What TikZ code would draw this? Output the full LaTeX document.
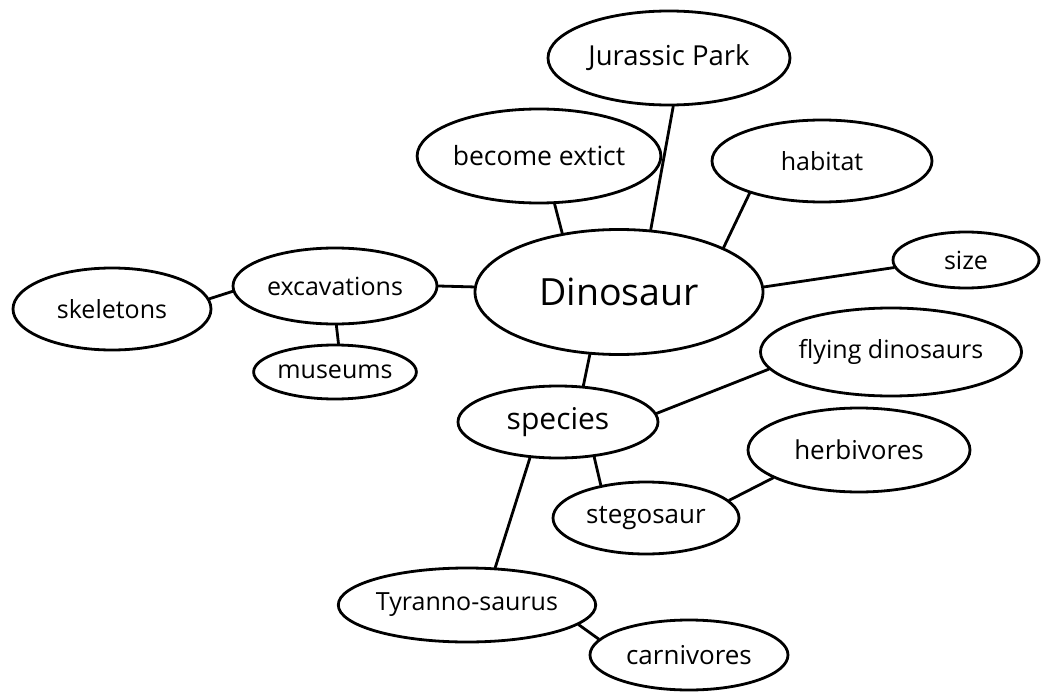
\documentclass[tikz,border=0pt]{standalone}
\usepackage{fontspec}
\setmainfont{Open Sans}
\usetikzlibrary{shapes.geometric}
\begin{document}
\begin{tikzpicture}[x=1pt,y=-1pt,
  bub/.style={ellipse, draw, line width=2.8pt, inner sep=0pt, font=\fontsize{25}{30}\selectfont},
  link/.style={line width=2.8pt, line cap=round}]
\useasboundingbox (0,0) rectangle (1045,693);
\fill[white] (0,0) rectangle (1045,693);
% nodes
\node[bub, minimum width=288pt, minimum height=125pt, font=\fontsize{37.5}{44}\selectfont] (dino) at (619,292) {Dinosaur};
\node[bub, minimum width=242pt, minimum height=94pt, font=\fontsize{27.5}{32}\selectfont] (jp) at (669,58) {Jurassic Park};
\node[bub, minimum width=226pt, minimum height=94pt, font=\fontsize{26.5}{32}\selectfont] (be) at (539,156) {become extict};
\node[bub, minimum width=220pt, minimum height=82pt] (hab) at (822,161) {habitat};
\node[bub, minimum width=146pt, minimum height=56pt] (size) at (966,260) {size};
\node[bub, minimum width=204pt, minimum height=76pt] (exc) at (335,286) {excavations};
\node[bub, minimum width=198pt, minimum height=82pt] (skel) at (112,309) {skeletons};
\node[bub, minimum width=160pt, minimum height=54pt] (mus) at (335,372) {museums};
\node[bub, minimum width=200pt, minimum height=72pt, font=\fontsize{30}{36}\selectfont] (spec) at (558,422) {species};
\node[bub, minimum width=253pt, minimum height=88pt] (fly) at (891,352) {flying dinosaurs};
\node[bub, minimum width=222pt, minimum height=84pt, font=\fontsize{26}{31}\selectfont] (herb) at (859,450) {herbivores};
\node[bub, minimum width=186pt, minimum height=72pt, font=\fontsize{26}{31}\selectfont] (steg) at (646,518) {stegosaur};
\node[bub, minimum width=240pt, minimum height=74pt] (tyr) at (467,605) {Tyranno-saurus};
\node[bub, minimum width=198pt, minimum height=70pt, font=\fontsize{26}{31}\selectfont] (carn) at (689,655) {carnivores};
% connectors
\draw[link] (be.-72.6) -- (dino.134.5);
\draw[link] (jp.-85) -- (dino.63.8);
\draw[link] (hab.-156.6) -- (dino.23.5);
\draw[link] (size.-174.4) -- (dino.2.7);
\draw[link] (exc.0) -- (dino.178);
\draw[link] (skel.6.8) -- (exc.183.4);
\draw[link] (exc.-88) -- (mus.83);
\draw[link] (dino.-115.8) -- (spec.55.6);
\draw[link] (spec.5.7) -- (fly.188.1);
\draw[link] (spec.-44.2) -- (steg.144.3);
\draw[link] (steg.12.9) -- (herb.-162.2);
\draw[link] (spec.-128.7) -- (tyr.53.6);
\draw[link] (tyr.-10.5) -- (carn.170.6);
\end{tikzpicture}
\end{document}
